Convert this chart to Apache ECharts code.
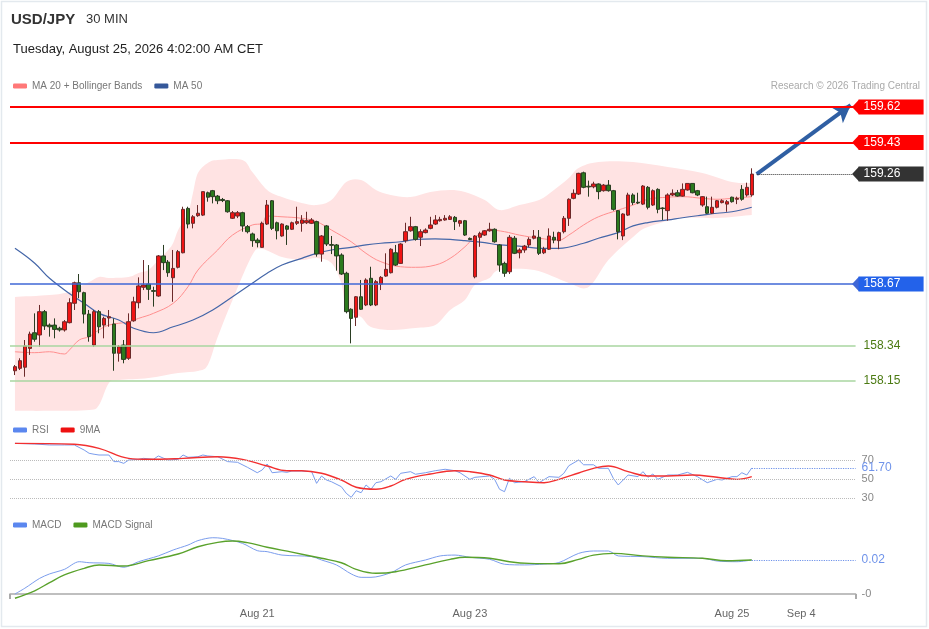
<!DOCTYPE html>
<html>
<head>
<meta charset="utf-8">
<title>USD/JPY 30 MIN</title>
<script src="https://cdn.jsdelivr.net/npm/echarts@6/dist/echarts.min.js"></script>
<style>
    html, body { margin: 0; padding: 0; background: #fff; }
    #chart { width: 929px; height: 629px; }
</style>
</head>
<body>
<div id="chart"></div>
<script>
// slots on the time axis: 0 is empty, candles sit on 1..150, 151..171 is the future part
var slotCount = 172;
var tickLabels = { 50: 'Aug 21', 93: 'Aug 23', 146: 'Aug 25', 160: 'Sep 4' };

// open, close, low, high
var ohlc = [
    [158.205, 158.227, 158.182, 158.236], [158.218, 158.259, 158.209, 158.272], [158.224, 158.338, 158.173, 158.370],
    [158.325, 158.402, 158.290, 158.415], [158.409, 158.374, 158.361, 158.513], [158.397, 158.522, 158.334, 158.558],
    [158.522, 158.445, 158.424, 158.531], [158.450, 158.441, 158.388, 158.459], [158.450, 158.427, 158.379, 158.486],
    [158.433, 158.424, 158.415, 158.441], [158.424, 158.468, 158.415, 158.477], [158.463, 158.570, 158.459, 158.594],
    [158.567, 158.677, 158.531, 158.683], [158.677, 158.629, 158.594, 158.724], [158.624, 158.509, 158.459, 158.629],
    [158.509, 158.388, 158.361, 158.531], [158.343, 158.522, 158.334, 158.531], [158.522, 158.441, 158.406, 158.531],
    [158.450, 158.486, 158.379, 158.495], [158.488, 158.495, 158.441, 158.531], [158.456, 158.299, 158.205, 158.486],
    [158.299, 158.334, 158.254, 158.343], [158.343, 158.266, 158.245, 158.370], [158.272, 158.468, 158.263, 158.513],
    [158.473, 158.575, 158.468, 158.602], [158.570, 158.660, 158.540, 158.706], [158.653, 158.665, 158.638, 158.799],
    [158.670, 158.642, 158.585, 158.772], [158.635, 158.631, 158.549, 158.656], [158.606, 158.821, 158.602, 158.826],
    [158.821, 158.785, 158.745, 158.880], [158.788, 158.731, 158.709, 158.799], [158.704, 158.754, 158.575, 158.853],
    [158.760, 158.844, 158.754, 158.853], [158.838, 159.071, 158.835, 159.085], [159.076, 158.992, 158.969, 159.085],
    [158.996, 159.031, 158.969, 159.040], [159.037, 159.050, 159.031, 159.094], [159.040, 159.166, 159.035, 159.166],
    [159.160, 159.136, 159.112, 159.166], [159.171, 159.139, 159.103, 159.175], [159.142, 159.117, 159.099, 159.148],
    [159.124, 159.118, 159.110, 159.132], [159.117, 159.058, 159.053, 159.121], [159.023, 159.053, 159.019, 159.062],
    [159.035, 159.053, 159.024, 159.062], [159.053, 158.982, 158.951, 159.058], [158.978, 158.951, 158.942, 158.987],
    [158.939, 158.903, 158.870, 158.946], [158.906, 158.892, 158.867, 158.916], [158.867, 158.996, 158.865, 159.005],
    [158.992, 159.094, 158.987, 159.121], [159.117, 158.969, 158.960, 159.121], [158.999, 158.956, 158.910, 159.005],
    [158.928, 158.992, 158.924, 158.996], [158.982, 158.964, 158.880, 158.987], [158.964, 158.999, 158.960, 159.005],
    [158.996, 159.005, 158.987, 159.085], [158.996, 159.014, 158.951, 159.040], [158.999, 159.010, 158.992, 159.058],
    [158.996, 159.014, 158.992, 159.024], [159.005, 158.831, 158.817, 159.010], [158.831, 158.928, 158.790, 158.933],
    [158.982, 158.885, 158.874, 158.987], [158.882, 158.878, 158.831, 158.928], [158.880, 158.821, 158.742, 158.885],
    [158.826, 158.724, 158.719, 158.835], [158.728, 158.522, 158.513, 158.736], [158.535, 158.486, 158.352, 158.540],
    [158.492, 158.602, 158.445, 158.606], [158.602, 158.535, 158.531, 158.692], [158.558, 158.692, 158.552, 158.701],
    [158.701, 158.558, 158.552, 158.763], [158.558, 158.683, 158.552, 158.692], [158.670, 158.706, 158.638, 158.713],
    [158.713, 158.749, 158.709, 158.835], [158.731, 158.857, 158.727, 158.862], [158.838, 158.772, 158.767, 158.880],
    [158.781, 158.885, 158.778, 158.889], [158.903, 158.951, 158.892, 158.999], [158.956, 158.978, 158.951, 159.031],
    [158.978, 158.910, 158.903, 158.982], [158.921, 158.951, 158.874, 158.964], [158.946, 158.960, 158.942, 158.969],
    [158.969, 158.987, 158.964, 159.031], [158.992, 159.014, 158.987, 159.040], [159.010, 159.017, 159.005, 159.031],
    [159.014, 159.023, 159.010, 159.040], [159.017, 159.031, 159.014, 159.040], [159.028, 159.005, 158.960, 159.035],
    [158.996, 159.010, 158.978, 159.014], [159.010, 158.933, 158.928, 159.014], [158.915, 158.909, 158.906, 158.920],
    [158.709, 158.928, 158.701, 158.933], [158.921, 158.942, 158.870, 158.951], [158.933, 158.956, 158.928, 158.960],
    [158.956, 158.964, 158.951, 158.999], [158.964, 158.897, 158.892, 158.969], [158.880, 158.772, 158.736, 158.885],
    [158.781, 158.728, 158.709, 158.790], [158.736, 158.921, 158.724, 158.933], [158.916, 158.835, 158.831, 158.928],
    [158.838, 158.853, 158.808, 158.862], [158.853, 158.874, 158.838, 158.880], [158.880, 158.910, 158.867, 158.921],
    [158.916, 158.928, 158.910, 158.960], [158.921, 158.835, 158.826, 158.960], [158.838, 158.857, 158.831, 158.870],
    [158.857, 158.928, 158.853, 158.969], [158.921, 158.906, 158.889, 158.951], [158.903, 158.946, 158.857, 158.951],
    [158.951, 159.023, 158.942, 159.035], [159.023, 159.125, 158.982, 159.130], [159.130, 159.157, 159.125, 159.178],
    [159.153, 159.264, 159.148, 159.267], [159.267, 159.189, 159.184, 159.273], [159.195, 159.191, 159.139, 159.225],
    [159.192, 159.207, 159.184, 159.219], [159.207, 159.166, 159.125, 159.210], [159.171, 159.201, 159.166, 159.207],
    [159.201, 159.171, 159.166, 159.228], [159.171, 159.071, 159.064, 159.175], [159.064, 158.951, 158.910, 159.067],
    [158.928, 159.046, 158.906, 159.050], [159.040, 159.148, 159.035, 159.160], [159.148, 159.107, 159.094, 159.157],
    [159.109, 159.105, 159.099, 159.160], [159.099, 159.196, 159.094, 159.201], [159.189, 159.082, 159.071, 159.196],
    [159.094, 159.171, 159.089, 159.178], [159.178, 159.071, 159.050, 159.184], [159.078, 159.075, 159.014, 159.082],
    [159.064, 159.148, 159.010, 159.157], [159.148, 159.157, 159.142, 159.178], [159.160, 159.142, 159.139, 159.175],
    [159.142, 159.178, 159.139, 159.210], [159.175, 159.210, 159.171, 159.210], [159.210, 159.160, 159.157, 159.210],
    [159.171, 159.148, 159.142, 159.175], [159.094, 159.139, 159.085, 159.142], [159.085, 159.050, 159.046, 159.139],
    [159.050, 159.082, 159.046, 159.139], [159.082, 159.117, 159.076, 159.121], [159.107, 159.117, 159.103, 159.125],
    [159.099, 159.112, 159.058, 159.121], [159.136, 159.112, 159.107, 159.139], [159.125, 159.130, 159.099, 159.139],
    [159.178, 159.125, 159.117, 159.201], [159.148, 159.189, 159.139, 159.214], [159.148, 159.260, 159.139, 159.291]
];

// [slot, value] pairs
var ma20 = [[1, 158.307], [5, 158.302], [8, 158.307], [11, 158.295], [12, 158.316], [14, 158.370], [16, 158.388],
    [18, 158.424], [20, 158.450], [24, 158.468], [26, 158.486], [29, 158.513], [33, 158.567], [36, 158.656],
    [38, 158.745], [42, 158.853], [45, 158.933], [49, 158.987], [51, 158.996], [52, 159.035], [55, 159.031],
    [59, 159.023], [62, 159.005], [65, 158.960], [69, 158.897], [72, 158.835], [75, 158.790], [79, 158.763],
    [82, 158.760], [86, 158.772], [89, 158.808], [92, 158.870], [94, 158.921], [97, 158.960], [100, 158.951],
    [103, 158.933], [107, 158.916], [111, 158.906], [113, 158.933], [116, 158.987], [119, 159.031], [123, 159.067],
    [126, 159.094], [129, 159.125], [133, 159.136], [136, 159.139], [140, 159.130], [143, 159.125], [146, 159.130],
    [150, 159.139]];

var ma50 = [[1, 158.862], [5, 158.782], [8, 158.701], [12, 158.620], [15, 158.567], [18, 158.513], [22, 158.477],
    [25, 158.433], [29, 158.409], [33, 158.441], [37, 158.477], [41, 158.531], [45, 158.602], [49, 158.674],
    [52, 158.728], [55, 158.772], [59, 158.808], [62, 158.835], [65, 158.853], [69, 158.867], [72, 158.880],
    [75, 158.889], [79, 158.897], [82, 158.910], [86, 158.913], [89, 158.910], [92, 158.903], [96, 158.892],
    [99, 158.880], [103, 158.874], [107, 158.862], [111, 158.862], [116, 158.889], [119, 158.916], [123, 158.946],
    [126, 158.982], [129, 159.000], [133, 159.014], [136, 159.026], [140, 159.040], [143, 159.050], [146, 159.058],
    [150, 159.082]];

var bbUpper = [[1, 158.601], [8, 158.611], [12, 158.628], [14, 158.654], [16, 158.681], [18, 158.708], [20, 158.703],
    [24, 158.708], [26, 158.729], [28, 158.745], [30, 158.799], [32, 158.853], [33, 158.890], [34, 158.960],
    [36, 159.051], [37, 159.159], [38, 159.266], [40, 159.320], [42, 159.336], [47, 159.336], [49, 159.271],
    [52, 159.175], [55, 159.137], [59, 159.105], [62, 159.094], [65, 159.121], [68, 159.218], [71, 159.228],
    [74, 159.175], [77, 159.148], [81, 159.137], [85, 159.164], [89, 159.175], [92, 159.164], [96, 159.121],
    [99, 159.067], [103, 159.094], [107, 159.121], [110, 159.175], [113, 159.239], [115, 159.293], [119, 159.325],
    [126, 159.325], [133, 159.298], [140, 159.266], [146, 159.218], [150, 159.212]];

var bbLower = [[1, 157.984], [8, 157.984], [16, 157.994], [18, 158.021], [20, 158.139], [22, 158.155], [28, 158.166],
    [34, 158.193], [38, 158.204], [40, 158.236], [42, 158.386], [45, 158.585], [49, 158.826], [51, 158.858],
    [55, 158.815], [59, 158.799], [62, 158.810], [65, 158.783], [67, 158.676], [68, 158.547], [71, 158.493],
    [73, 158.440], [77, 158.424], [82, 158.434], [86, 158.450], [89, 158.531], [92, 158.585], [94, 158.665],
    [97, 158.703], [99, 158.745], [106, 158.745], [113, 158.676], [117, 158.654], [121, 158.799], [126, 158.923],
    [129, 158.976], [136, 159.024], [143, 159.024], [150, 159.040]];

var rsi = [[1, 87.4], [5, 86.7], [8, 85.7], [11, 85.7], [13, 85.7], [15, 80.4], [16, 77], [17, 76], [18, 75.2],
    [20, 75.2], [21, 68.3], [22, 68.3], [23, 66.5], [24, 70], [26, 70.7], [27, 71.7], [29, 70.7], [30, 74.2],
    [31, 72], [32, 70], [34, 70.7], [35, 75.2], [36, 72.8], [38, 73.4], [39, 75.2], [40, 74.2], [42, 73.4],
    [44, 68.3], [46, 67.6], [48, 62.4], [50, 56.7], [51, 59.6], [52, 65.8], [53, 56.7], [55, 57.8], [56, 57.1],
    [57, 58.5], [59, 58.5], [61, 57.8], [62, 45.6], [63, 53.3], [64, 49.1], [65, 47.3], [67, 42.1], [68, 35.2],
    [69, 31], [70, 37.9], [71, 35.8], [72, 43.9], [73, 39.4], [74, 46.3], [75, 47.3], [77, 53.3], [78, 49.8],
    [79, 56.1], [81, 57.8], [82, 55.1], [84, 56.7], [86, 58.8], [88, 60.3], [90, 58.8], [91, 56.7], [93, 49.8],
    [94, 51.9], [97, 53.3], [98, 49.8], [99, 39.4], [100, 36.9], [101, 50.9], [102, 46.3], [104, 47.3], [106, 52.6],
    [107, 46.3], [109, 52.6], [111, 51.9], [112, 56.1], [113, 64], [115, 70], [116, 65], [118, 65], [119, 61.3],
    [121, 61.3], [122, 50.9], [123, 43.9], [125, 54.3], [127, 52.6], [128, 57.8], [129, 51.9], [130, 55.4],
    [131, 49.8], [133, 54.3], [135, 54.3], [137, 57.1], [139, 52.6], [141, 46.3], [143, 49.8], [144, 49.1],
    [146, 52.6], [147, 52.6], [148, 56.7], [149, 54.3], [150, 61.7]];

var rsiMa = [[1, 87.4], [13, 86.4], [18, 82.2], [24, 71.7], [28, 70.7], [35, 71.7], [42, 73.4], [47, 70.7],
    [52, 63.7], [56, 58.8], [59, 58.8], [63, 56.1], [67, 49.1], [70, 41.5], [74, 39.4], [77, 42.8], [80, 49.8],
    [85, 55.4], [90, 58.8], [93, 57.8], [97, 54.3], [100, 49.1], [104, 47.3], [108, 46.3], [111, 49.8], [115, 56.4],
    [118, 61.3], [121, 63.7], [125, 57.8], [129, 53.3], [133, 53.3], [138, 54.3], [143, 51.9], [147, 49.8],
    [150, 52.6]];

var macd = [[1, 0.0], [3, 0.0034], [6, 0.0092], [8, 0.0118], [11, 0.0145], [14, 0.019], [16, 0.0184], [20, 0.018],
    [23, 0.0157], [26, 0.019], [30, 0.0224], [33, 0.0259], [36, 0.0288], [38, 0.0314], [41, 0.0331], [43, 0.0327],
    [47, 0.0298], [50, 0.0255], [52, 0.0249], [55, 0.0229], [61, 0.022], [63, 0.02], [66, 0.0171], [69, 0.0118],
    [71, 0.0098], [73, 0.0098], [77, 0.0125], [80, 0.0171], [84, 0.02], [87, 0.0224], [90, 0.0229], [93, 0.0216],
    [97, 0.0204], [100, 0.0175], [104, 0.0171], [108, 0.0176], [111, 0.0185], [115, 0.0239], [118, 0.0253],
    [121, 0.0253], [123, 0.0224], [128, 0.022], [133, 0.021], [140, 0.021], [143, 0.0194], [147, 0.019],
    [150, 0.02]];

var macdSignal = [[1, -0.0025], [5, 0.0019], [8, 0.0067], [11, 0.0112], [15, 0.0151], [18, 0.0171], [23, 0.0165],
    [28, 0.0196], [34, 0.0235], [38, 0.0278], [42, 0.0304], [45, 0.0312], [48, 0.0302], [52, 0.0275], [57, 0.0246],
    [63, 0.021], [67, 0.0184], [70, 0.0145], [74, 0.0122], [78, 0.0131], [84, 0.0171], [89, 0.0204], [92, 0.0216],
    [97, 0.021], [101, 0.019], [105, 0.018], [111, 0.0178], [115, 0.0204], [118, 0.0229], [122, 0.0239],
    [128, 0.0224], [133, 0.0216], [140, 0.021], [145, 0.0196], [150, 0.02]];

// levels drawn across the price panel
var resistance = [159.62, 159.43];
var pivot = 158.67;
var support = [158.34, 158.15];
var lastPrice = 159.26;
var target = [170, 159.63];
var rsiLevels = [70, 50, 30];
var lastRsi = 61.70;
var lastMacd = 0.02;

// smooth path through pixel points (catmull-rom as cubic beziers)
function curvePath(pts, start) {
    var d = (start ? 'M' : 'L') + pts[0][0] + ',' + pts[0][1];
    for (var i = 0; i < pts.length - 1; i++) {
        var p0 = pts[Math.max(i - 1, 0)], p1 = pts[i], p2 = pts[i + 1], p3 = pts[Math.min(i + 2, pts.length - 1)];
        var c1x = p1[0] + (p2[0] - p0[0]) / 6, c1y = p1[1] + (p2[1] - p0[1]) / 6;
        var c2x = p2[0] - (p3[0] - p1[0]) / 6, c2y = p2[1] - (p3[1] - p1[1]) / 6;
        d += 'C' + c1x + ',' + c1y + ',' + c2x + ',' + c2y + ',' + p2[0] + ',' + p2[1];
    }
    return d;
}

window.onload = function () {
    var chartDom = document.getElementById('chart');
    var myChart = echarts.init(chartDom);

    var slots = [];
    for (var i = 0; i < slotCount; i++) {
        slots.push('s' + i);
    }
    var lastSlot = ohlc.length;
    var candleData = ohlc.map(function (d, i) {
        return [i + 1, d[0], d[1], d[2], d[3]];
    });

    function boxLabel(text, bg) {
        return {
            show: true,
            position: 'end',
            distance: 3,
            formatter: text,
            color: '#fff',
            backgroundColor: bg,
            fontSize: 12,
            lineHeight: 13,
            padding: [1, 5, 1, 5],
            width: 55
        };
    }
    var tip = 'path://M0,0 L10,0 L5,10 Z';

    var priceLines = [];
    resistance.forEach(function (v) {
        priceLines.push({
            yAxis: v,
            lineStyle: { color: '#f00', width: 1.8, type: 'solid' },
            label: boxLabel(v.toFixed(2), '#f00')
        });
    });
    priceLines.push({
        yAxis: pivot,
        lineStyle: { color: '#3f67d6', width: 1.5, type: 'solid' },
        label: boxLabel(pivot.toFixed(2), '#2362ea')
    });
    priceLines.push([
        { coord: [lastSlot + 1, lastPrice] },
        {
            coord: [slotCount - 1, lastPrice],
            lineStyle: { color: '#333', width: 1, type: 'dotted' },
            label: boxLabel(lastPrice.toFixed(2), '#333')
        }
    ]);

    var supportLines = support.map(function (v) {
        return {
            yAxis: v,
            lineStyle: { color: '#a9d6a1', width: 1.5, type: 'solid' },
            label: { show: true, position: 'end', distance: 8, formatter: v.toFixed(2), color: '#4b7a12', fontSize: 12 }
        };
    });
    supportLines.push([
        { coord: [lastSlot + 1, lastPrice], symbol: 'none' },
        {
            coord: target,
            symbol: 'arrow',
            symbolSize: [15, 17],
            lineStyle: { color: '#2f5fa3', width: 4, type: 'solid' },
            label: { show: false }
        }
    ]);

    var grids = [
        { left: 10, right: 73.4, top: 99.54, height: 311.3 },
        { left: 10, right: 73.4, top: 436.06, height: 71.8 },
        { left: 10, right: 73.4, top: 526, height: 75 }
    ];
    grids.forEach(function (g) {
        g.containLabel = false;
        g.outerBoundsMode = 'none';
    });

    function hiddenX(idx) {
        return {
            type: 'category', gridIndex: idx, data: slots, boundaryGap: false,
            axisLine: { show: false }, axisTick: { show: false }, axisLabel: { show: false },
            splitLine: { show: false }
        };
    }

    var legendText = { fontSize: 10, color: '#777' };

    var option = {
        backgroundColor: '#fff',
        animation: false,
        textStyle: { fontFamily: '"Liberation Sans", Arial, sans-serif' },
        title: [
            { text: 'USD/JPY', left: 11, top: 12, padding: 0, textStyle: { fontSize: 15, fontWeight: 'bold', color: '#333' } },
            { text: '30 MIN', left: 86, top: 13, padding: 0, textStyle: { fontSize: 13, fontWeight: 'normal', color: '#333' } },
            { text: 'Tuesday, August 25, 2026 4:02:00 AM CET', left: 13, top: 43, padding: 0, textStyle: { fontSize: 13, fontWeight: 'normal', color: '#222' } },
            { text: 'Research © 2026 Trading Central', right: 9, top: 81, padding: 0, textStyle: { fontSize: 10, fontWeight: 'normal', color: '#aaa' } }
        ],
        legend: [
            {
                data: ['MA 20 + Bollinger Bands', 'MA 50'], left: 13, top: 81, padding: 0,
                icon: 'roundRect', itemWidth: 14, itemHeight: 5, itemGap: 12, selectedMode: false,
                textStyle: legendText
            },
            {
                data: ['RSI', '9MA'], left: 13, top: 425, padding: 0,
                icon: 'roundRect', itemWidth: 14, itemHeight: 5, itemGap: 12, selectedMode: false,
                textStyle: legendText
            },
            {
                data: ['MACD', 'MACD Signal'], left: 13, top: 520, padding: 0,
                icon: 'roundRect', itemWidth: 14, itemHeight: 5, itemGap: 12, selectedMode: false,
                textStyle: legendText
            }
        ],
        graphic: [
            { type: 'rect', shape: { x: 1.5, y: 1.5, width: 925, height: 625 }, style: { fill: 'none', stroke: '#e3e9ee', lineWidth: 1.5 }, silent: true }
        ],
        grid: grids,
        xAxis: [
            hiddenX(0),
            hiddenX(1),
            {
                type: 'category', gridIndex: 2, data: slots, boundaryGap: false,
                axisLine: { show: true, lineStyle: { color: '#aaa', width: 1.6 } },
                axisTick: {
                    show: true, length: 5, lineStyle: { color: '#aaa', width: 2 },
                    interval: function (index) { return index === 0 || index === slotCount - 1; }
                },
                axisLabel: {
                    show: true, interval: 0, margin: 7, color: '#666', fontSize: 11,
                    formatter: function (value, index) { return tickLabels[index] || ''; }
                },
                splitLine: { show: false }
            }
        ],
        yAxis: [
            { type: 'value', gridIndex: 0, min: 157.99, max: 159.66, show: false },
            { type: 'value', gridIndex: 1, min: 20, max: 95, show: false },
            { type: 'value', gridIndex: 2, min: -0.00412, max: 0.04, show: false }
        ],
        series: [
            {
                name: 'Bollinger band', type: 'custom', xAxisIndex: 0, yAxisIndex: 0, data: [[1, 159]], z: 1, silent: true,
                renderItem: function (params, api) {
                    var cs = params.coordSys;
                    var bottom = cs.y + cs.height;
                    var up = bbUpper.map(function (p) { return api.coord(p); });
                    var lo = bbLower.map(function (p) {
                        var c = api.coord(p);
                        return [c[0], Math.min(c[1], bottom)];
                    }).reverse();
                    return {
                        type: 'path',
                        shape: { pathData: curvePath(up, true) + curvePath(lo, false) + 'Z' },
                        style: { fill: '#ffe3e3', stroke: null }
                    };
                }
            },
            {
                name: 'MA 20 + Bollinger Bands', type: 'line', xAxisIndex: 0, yAxisIndex: 0, data: ma20, smooth: 0.4,
                symbol: 'none', color: '#ff7878', lineStyle: { width: 1, color: '#ff8f8f' }, z: 2
            },
            {
                name: 'MA 50', type: 'line', xAxisIndex: 0, yAxisIndex: 0, data: ma50, smooth: 0.4,
                symbol: 'none', color: '#35589a', lineStyle: { width: 1.2, color: '#4466a8' }, z: 2,
                markLine: {
                    silent: true, animation: false, symbol: 'none',
                    data: supportLines
                }
            },
            {
                name: 'USD/JPY', type: 'candlestick', xAxisIndex: 0, yAxisIndex: 0, data: candleData,
                encode: { x: 0, y: [1, 2, 3, 4] }, barWidth: 4, z: 3,
                itemStyle: { color: '#f01414', color0: '#2c7a1e', borderColor: '#6b2a2a', borderColor0: '#2a3d22', borderWidth: 1 },
                markLine: {
                    silent: true, animation: false, precision: 2,
                    symbol: ['none', tip], symbolSize: [15, 7],
                    data: priceLines
                }
            },
            {
                name: 'RSI', type: 'line', xAxisIndex: 1, yAxisIndex: 1, data: rsi, symbol: 'none',
                color: '#5b87ef', lineStyle: { width: 1, color: '#7b9ded' },
                markLine: {
                    silent: true, animation: false, symbol: 'none',
                    data: rsiLevels.map(function (v) {
                        return {
                            yAxis: v,
                            lineStyle: { color: '#bbb', width: 1, type: 'dotted' },
                            label: { show: true, position: 'end', distance: 6, formatter: String(v), color: '#888', fontSize: 11 }
                        };
                    }).concat([[
                        { coord: [lastSlot, lastRsi] },
                        {
                            coord: [slotCount - 1, lastRsi],
                            lineStyle: { color: '#6f93ea', width: 1.2, type: 'dotted' },
                            label: { show: true, position: 'end', distance: 6, formatter: lastRsi.toFixed(2), color: '#6f93ea', fontSize: 12 }
                        }
                    ]])
                }
            },
            {
                name: '9MA', type: 'line', xAxisIndex: 1, yAxisIndex: 1, data: rsiMa, smooth: 0.4, symbol: 'none',
                color: '#ee1111', lineStyle: { width: 1.4, color: '#f23030' }
            },
            {
                name: 'MACD', type: 'line', xAxisIndex: 2, yAxisIndex: 2, data: macd, smooth: 0.3, symbol: 'none',
                color: '#5b87ef', lineStyle: { width: 1, color: '#7b9ded' },
                markLine: {
                    silent: true, animation: false, symbol: 'none',
                    data: [
                        [
                            { coord: [lastSlot, lastMacd] },
                            {
                                coord: [slotCount - 1, lastMacd],
                                lineStyle: { color: '#6f93ea', width: 1.2, type: 'dotted' },
                                label: { show: true, position: 'end', distance: 6, formatter: lastMacd.toFixed(2), color: '#6f93ea', fontSize: 12 }
                            }
                        ],
                        {
                            yAxis: 0,
                            lineStyle: { color: 'rgba(0,0,0,0)', width: 1 },
                            label: { show: true, position: 'end', distance: 6, formatter: '-0', color: '#888', fontSize: 11 }
                        }
                    ]
                }
            },
            {
                name: 'MACD Signal', type: 'line', xAxisIndex: 2, yAxisIndex: 2, data: macdSignal, smooth: 0.4, symbol: 'none',
                color: '#4e9a1e', lineStyle: { width: 1.4, color: '#5aa22c' }
            }
        ]
    };

    option && myChart.setOption(option);
};
</script>
</body>
</html>
